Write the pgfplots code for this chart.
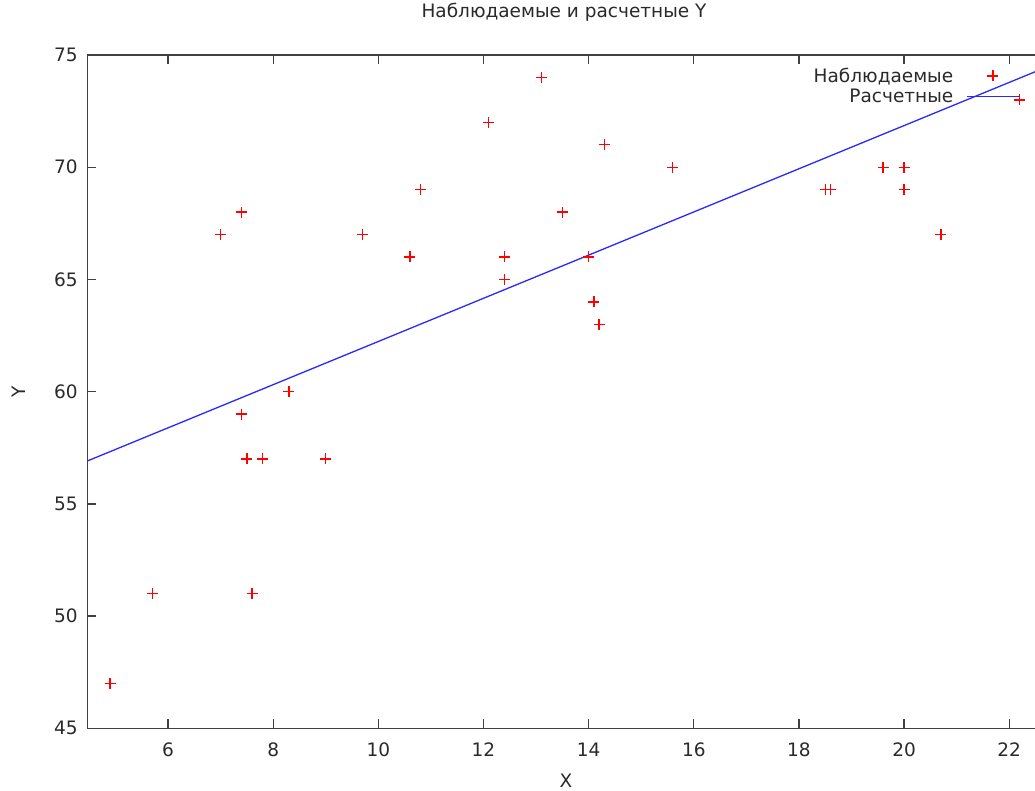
\documentclass[border=0pt]{standalone}
\usepackage{fontspec}
\setmainfont{DejaVu Sans}
\usepackage{pgfplots}
\pgfplotsset{compat=1.18}
\usetikzlibrary{calc}
\definecolor{axgray}{HTML}{404040}
\definecolor{txt}{HTML}{2A2A2A}
\definecolor{obsred}{HTML}{FF0000}
\definecolor{fitblue}{HTML}{2828FF}
\pgfplotstableread{
x y
4.9 47
5.7 51
7.0 67
7.4 68
7.4 59
7.5 57
7.8 57
7.6 51
8.3 60
9.0 57
9.7 67
10.6 66
10.8 69
12.1 72
12.4 66
12.4 65
13.1 74
13.5 68
14.0 66
14.1 64
14.2 63
14.3 71
15.6 70
18.5 69
18.6 69
19.6 70
20.0 70
20.0 69
20.7 67
22.2 73
}\observed
\begin{document}
\begin{tikzpicture}
\begin{axis}[
  scale only axis, width=947.7pt, height=673.3pt,
  xmin=4.465, xmax=22.49, ymin=45, ymax=75,
  axis x line*=box, axis y line*=left,
  axis line style={axgray, line width=1.3pt},
  xtick={6,8,...,22}, ytick={45,50,...,75},
  tick align=inside, major tick length=9pt,
  tick style={axgray, line width=1.3pt},
  font=\fontsize{18.5}{22}\selectfont,
  /pgf/number format/assume math mode=true,
  ticklabel style={txt},
  xticklabel style={yshift=-11pt},
  yticklabel style={xshift=-6pt},
  title={Наблюдаемые и расчетные Y},
  title style={at={(axis description cs:0.503,1.055)}, anchor=center, txt},
  xlabel={X}, ylabel={Y},
  xlabel style={at={(axis description cs:0.505,-0.078)}, anchor=center, txt},
  ylabel style={at={(axis description cs:-0.0728,0.5)}, anchor=center, txt},
  legend plot pos=right,
  legend style={draw=none, fill=none, at={(axis description cs:0.986,0.987)}, anchor=north east,
    cells={anchor=east, txt}, font=\fontsize{18.5}{22}\selectfont, row sep=1pt, column sep=11pt, inner sep=2pt},
  legend image code/.code={\draw[mark repeat=2,mark phase=2,#1] plot coordinates {(0pt,0pt) (26pt,0pt) (52pt,0pt)};},
]
\addplot[only marks, color=obsred, mark=+, mark size=5.5pt, line width=1.4pt,
  mark options={solid, draw=obsred}] table[x=x,y=y] {\observed};
\addlegendentry{Наблюдаемые}
\addplot[fitblue, line width=1.3pt] coordinates {(4.465,56.91) (22.49,74.25)};
\addlegendentry{Расчетные}
\end{axis}
\pgfresetboundingbox
\path[use as bounding box] ($(current axis.south west)+(-87.3pt,-62.7pt)$) rectangle ($(current axis.north east)+(0pt,55pt)$);
\end{tikzpicture}
\end{document}
